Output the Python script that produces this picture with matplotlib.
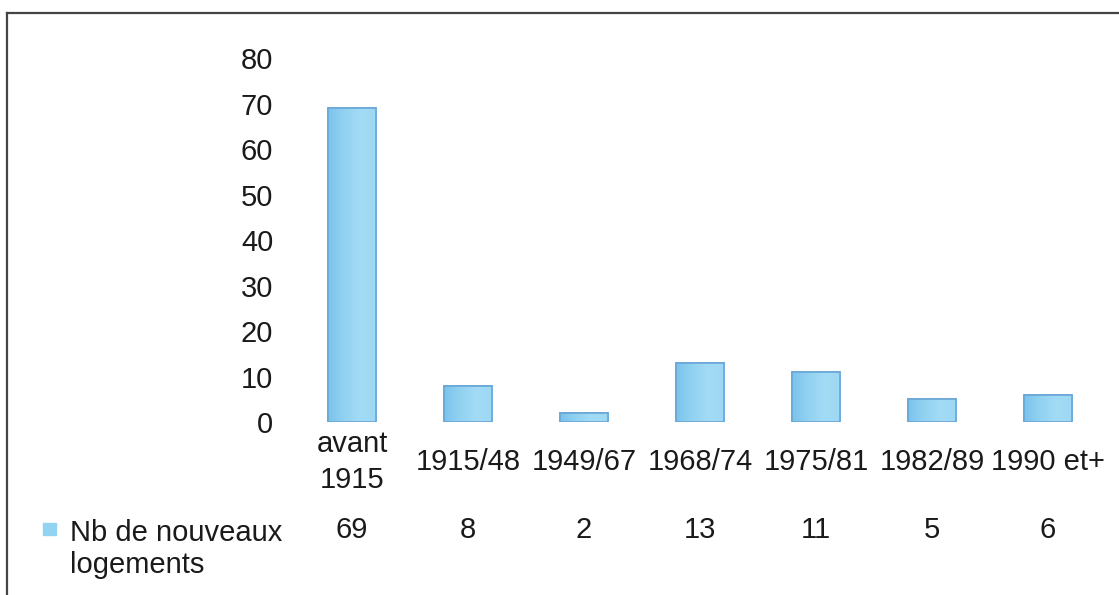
import numpy as np
import matplotlib
matplotlib.use("Agg")
import matplotlib.pyplot as plt
from matplotlib.colors import LinearSegmentedColormap
from matplotlib.transforms import blended_transform_factory

plt.rcParams['font.family'] = ['Liberation Sans', 'DejaVu Sans']

periodes = ["avant\n1915", "1915/48", "1949/67", "1968/74", "1975/81", "1982/89", "1990 et+"]
nb_logements = [69, 8, 2, 13, 11, 5, 6]
serie = "Nb de nouveaux\nlogements"
y_ticks = [0, 10, 20, 30, 40, 50, 60, 70, 80]

fs = 21
fig = plt.figure(figsize=(11.19, 5.95), dpi=100)
ax = fig.add_axes([0.2627, 0.2908, 0.7257, 0.6109])

x = np.arange(len(periodes))
bars = ax.bar(x, nb_logements, width=0.42, color="#92d3f2",
              edgecolor="#6aa6d6", linewidth=1.2, zorder=2)

# light blue gradient inside each bar, a little darker on the left
grad = LinearSegmentedColormap.from_list(
    "bleu", ["#7cc4ec", "#92d2f1", "#a3dbf5", "#9dd8f4"])
ramp = np.linspace(0, 1, 64).reshape(1, -1)
for b in bars:
    x0, w, h = b.get_x(), b.get_width(), b.get_height()
    im = ax.imshow(ramp, cmap=grad, aspect="auto",
                   extent=(x0, x0 + w, 0, h), zorder=2.5)
    im.set_clip_path(b)
    ax.add_patch(plt.Rectangle((x0, 0), w, h, fill=False,
                               edgecolor="#6aa6d6", linewidth=1.2, zorder=3))

ax.set_xlim(-0.5, len(periodes) - 0.5)
ax.set_ylim(0, 80)
ax.set_yticks(y_ticks)
ax.set_yticklabels([str(v) for v in y_ticks], fontsize=fs, color="#1a1a1a")
ax.tick_params(axis="y", length=0, pad=15)
ax.set_xticks([])
for s in ax.spines.values():
    s.set_visible(False)

# category labels and data table under the axis
tr = blended_transform_factory(ax.transData, fig.transFigure)
for xi, lab, v in zip(x, periodes, nb_logements):
    ax.text(xi, 1 - 462 / 595, lab, transform=tr, ha="center", va="center",
            fontsize=fs, color="#1a1a1a", linespacing=1.32)
    ax.text(xi, 1 - 530 / 595, str(v), transform=tr, ha="center", va="center",
            fontsize=fs, color="#1a1a1a")

fig.patches.append(plt.Rectangle((43 / 1119, 1 - 535 / 595), 13 / 1119, 12 / 595,
                                 transform=fig.transFigure, color="#92d3f2"))
fig.text(70 / 1119, 1 - 549 / 595, serie, ha="left", va="center",
         fontsize=fs, color="#1a1a1a", linespacing=1.15)

# outer frame: top and left edges
fig.add_artist(plt.Line2D([7 / 1119, 1.0], [1 - 13 / 595, 1 - 13 / 595],
                          transform=fig.transFigure, color="#444444", linewidth=1.6))
fig.add_artist(plt.Line2D([7 / 1119, 7 / 1119], [0.0, 1 - 13 / 595],
                          transform=fig.transFigure, color="#444444", linewidth=1.6))

fig.savefig("out.png", dpi=100)
